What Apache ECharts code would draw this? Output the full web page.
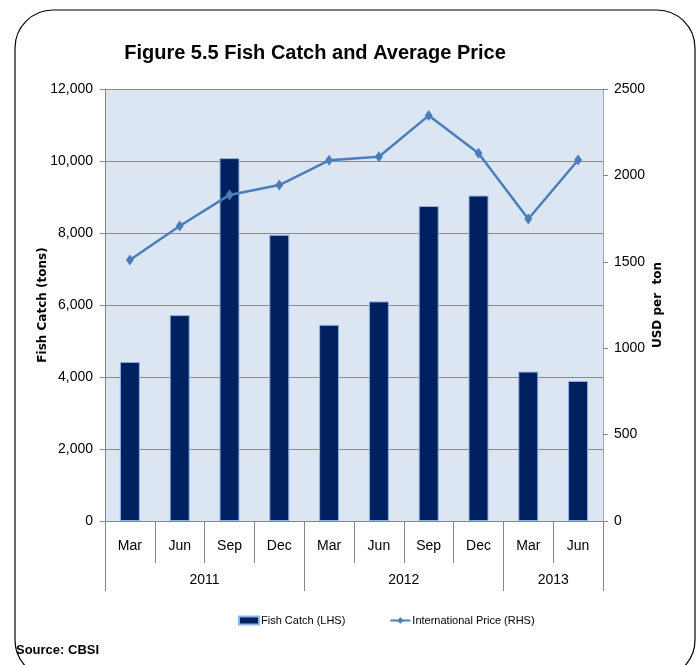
<!DOCTYPE html>
<html>
<head>
<meta charset="utf-8">
<script src="https://cdn.jsdelivr.net/npm/echarts@6/dist/echarts.min.js"></script>
<style>
  html, body { margin: 0; padding: 0; background: #ffffff; }
  #chart { width: 700px; height: 665px; }
</style>
</head>
<body>
<div id="chart"></div>
<script>
// Quarterly fish catch (tons, left axis) and international price (USD per ton, right axis)
const months = ['Mar', 'Jun', 'Sep', 'Dec', 'Mar', 'Jun', 'Sep', 'Dec', 'Mar', 'Jun'];
const years = ['2011', '2012', '2013'];
const quartersPerYear = [4, 4, 2];
const fishCatch = [4420, 5720, 10080, 7950, 5450, 6100, 8750, 9040, 4150, 3890];
const intlPrice = [1510, 1707, 1887, 1944, 2087, 2108, 2346, 2128, 1748, 2089];

// Year group boundaries and centres along the category band (in category units)
const yearBounds = [0];
quartersPerYear.forEach(n => yearBounds.push(yearBounds[yearBounds.length - 1] + n));
const yearCentres = years.map((_, i) => (yearBounds[i] + yearBounds[i + 1]) / 2);

const sans = '"Liberation Sans", Arial, sans-serif';
const boldName = '"DejaVu Sans", sans-serif';
const axisGray = '#868686';

const chart = echarts.init(document.getElementById('chart'), null, { renderer: 'canvas' });

chart.setOption({
  animation: false,
  backgroundColor: '#ffffff',
  title: {
    text: 'Figure 5.5 Fish Catch and Average Price',
    left: 310,
    textAlign: 'center',
    top: 38,
    textStyle: { fontFamily: sans, fontSize: 20, fontWeight: 'bold', color: '#000000' }
  },
  legend: {
    left: 233,
    top: 610,
    itemWidth: 20,
    itemHeight: 8,
    itemGap: 44,
    textStyle: { fontFamily: sans, fontSize: 11, color: '#000000', padding: [0, 0, 0, -3] },
    data: [
      { name: 'Fish Catch (LHS)', icon: 'rect' },
      { name: 'International Price (RHS)' }
    ]
  },
  grid: {
    left: 105, right: 97, top: 89, bottom: 144,
    show: true, backgroundColor: '#dce6f2', borderWidth: 0
  },
  xAxis: [
    {
      type: 'category',
      data: months,
      position: 'bottom',
      axisLine: { show: true, lineStyle: { color: axisGray, width: 1 } },
      axisTick: { show: true, interval: 0, length: 42, lineStyle: { color: axisGray } },
      axisLabel: { interval: 0, margin: 18, fontFamily: sans, fontSize: 14, color: '#000000' },
      splitLine: { show: false }
    },
    {
      type: 'value',
      min: 0,
      max: months.length,
      position: 'bottom',
      axisLine: { show: false },
      axisTick: { show: true, customValues: yearBounds, length: 70, lineStyle: { color: axisGray } },
      axisLabel: {
        customValues: yearCentres,
        margin: 52,
        fontFamily: sans, fontSize: 14, color: '#000000',
        formatter: v => years[yearCentres.indexOf(v)] || ''
      },
      splitLine: { show: false }
    }
  ],
  yAxis: [
    {
      type: 'value',
      min: 0, max: 12000, interval: 2000,
      name: 'Fish Catch (tons)',
      nameLocation: 'middle',
      nameGap: 56,
      nameRotate: 90,
      nameMoveOverlap: false,
      nameTextStyle: { fontFamily: boldName, fontSize: 12, fontWeight: 'bold', color: '#000000' },
      axisLine: { show: true, lineStyle: { color: axisGray } },
      axisTick: { show: true, length: 5, lineStyle: { color: axisGray } },
      axisLabel: {
        margin: 12, fontFamily: sans, fontSize: 14, color: '#000000',
        formatter: v => v.toLocaleString('en-US')
      },
      splitLine: { show: true, lineStyle: { color: '#8a8a8a', width: 1 } }
    },
    {
      type: 'value',
      min: 0, max: 2500, interval: 500,
      position: 'right',
      name: 'USD per  ton',
      nameLocation: 'middle',
      nameGap: 49,
      nameRotate: 90,
      nameMoveOverlap: false,
      nameTextStyle: { fontFamily: boldName, fontSize: 12, fontWeight: 'bold', color: '#000000' },
      axisLine: { show: true, lineStyle: { color: '#a6a6a6' } },
      axisTick: { show: true, length: 5, lineStyle: { color: axisGray } },
      axisLabel: {
        margin: 11, fontFamily: sans, fontSize: 14, color: '#000000',
        formatter: v => String(v)
      },
      splitLine: { show: false }
    }
  ],
  series: [
    {
      name: 'Fish Catch (LHS)',
      type: 'bar',
      xAxisIndex: 0,
      yAxisIndex: 0,
      data: fishCatch,
      barWidth: 20,
      itemStyle: { color: '#002060', borderColor: '#8eb4e3', borderWidth: 1 }
    },
    {
      name: 'International Price (RHS)',
      type: 'line',
      xAxisIndex: 0,
      yAxisIndex: 1,
      data: intlPrice,
      symbol: 'diamond',
      symbolSize: [8, 11],
      lineStyle: { color: '#4a7ebb', width: 2.5 },
      itemStyle: { color: '#4a7ebb' }
    }
  ],
  graphic: [
    {
      type: 'rect',
      shape: { x: 15, y: 10, width: 680, height: 668, r: 38 },
      style: { fill: 'none', stroke: '#000000', lineWidth: 1.2 },
      silent: true
    },
    {
      type: 'text',
      left: 16,
      top: 644,
      style: { text: 'Source: CBSI', fontFamily: sans, fontSize: 13, fontWeight: 'bold', fill: '#000000' }
    }
  ]
});
</script>
</body>
</html>
